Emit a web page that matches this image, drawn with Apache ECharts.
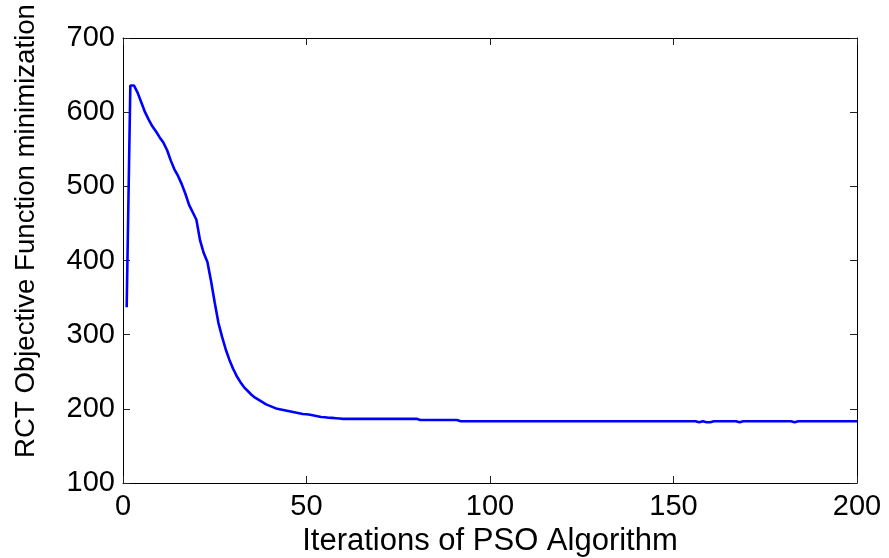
<!DOCTYPE html>
<html>
<head>
<meta charset="utf-8">
<script src="https://cdn.jsdelivr.net/npm/echarts@6/dist/echarts.min.js"></script>
<style>html,body{margin:0;padding:0;background:#fff}#c{width:889px;height:558px}</style>
</head>
<body>
<div id="c"></div>
<script>
var xTicks = [0, 50, 100, 150, 200];
var yTicks = [100, 200, 300, 400, 500, 600, 700];
var xTitle = 'Iterations of PSO Algorithm';
var yTitle = 'RCT Objective Function minimization';

// iteration numbers 1..200
var iterations = [];
for (var i = 1; i <= 200; i++) iterations.push(i);

// objective value per iteration
var earlyValues = [
  337, 636, 636, 626, 613, 600, 590, 581, 574, 566,
  559, 549, 535, 523, 514, 503, 490, 475, 465, 455,
  427, 410, 398, 372, 343, 316, 297, 280, 266, 254,
  244, 236, 229, 224, 219, 215, 212, 209, 206, 204,
  202, 200, 199, 198, 197, 196, 195, 194, 193, 192.7,
  192, 191, 190, 189, 188.6, 188, 187.8, 187.4, 187, 186.5
];
var midValues = [ // iterations 61..91
  186.5, 186.5, 186.5, 186.5, 186.5, 186.5, 186.5, 186.5, 186.5, 186.5,
  186.5, 186.5, 186.5, 186.5, 186.5, 186.5, 186.5, 186.5, 186.5, 186.5,
  185, 185, 185, 185, 185, 185, 185, 185, 185, 185, 185
];
var lateValues = [ // iterations 92..200
  183.2, 183.2, 183.2, 183.2, 183.2, 183.2, 183.2, 183.2, 183.2, 183.2,
  183.2, 183.2, 183.2, 183.2, 183.2, 183.2, 183.2, 183.2, 183.2, 183.2,
  183.2, 183.2, 183.2, 183.2, 183.2, 183.2, 183.2, 183.2, 183.2, 183.2,
  183.2, 183.2, 183.2, 183.2, 183.2, 183.2, 183.2, 183.2, 183.2, 183.2,
  183.2, 183.2, 183.2, 183.2, 183.2, 183.2, 183.2, 183.2, 183.2, 183.2,
  183.2, 183.2, 183.2, 183.2, 183.2, 183.2, 183.2, 183.2, 183.2, 183.2,
  183.2, 183.2, 183.2, 183.2, 183.2, 182.0, 183.2, 182.0, 182.0, 183.2,
  183.2, 183.2, 183.2, 183.2, 183.2, 183.2, 182.0, 183.2, 183.2, 183.2,
  183.2, 183.2, 183.2, 183.2, 183.2, 183.2, 183.2, 183.2, 183.2, 183.2,
  183.2, 182.0, 183.2, 183.2, 183.2, 183.2, 183.2, 183.2, 183.2, 183.2,
  183.2, 183.2, 183.2, 183.2, 183.2, 183.2, 183.2, 183.2, 183.2
];
var values = earlyValues.concat(midValues, lateValues);

var seriesData = iterations.map(function (x, k) { return [x, values[k]]; });

var FONT = '"Liberation Sans", Arial, sans-serif';
var chart = echarts.init(document.getElementById('c'), null, {renderer: 'canvas'});

function axisCommon(showLabel) {
  return {
    axisLine: {show: true, onZero: false, lineStyle: {color: '#000', width: 1}},
    axisTick: {show: true, inside: true, length: 7, lineStyle: {color: '#222', width: 1}},
    splitLine: {show: false},
    axisLabel: {show: showLabel, color: '#000', fontSize: 29, fontFamily: FONT}
  };
}

var xb = axisCommon(true); xb.type = 'value'; xb.min = xTicks[0]; xb.max = xTicks[xTicks.length-1]; xb.interval = 50; xb.position = 'bottom'; xb.axisLabel.margin = 9;
var xt = axisCommon(false); xt.type = 'value'; xt.min = xTicks[0]; xt.max = xTicks[xTicks.length-1]; xt.interval = 50; xt.position = 'top';
var yl = axisCommon(true); yl.type = 'value'; yl.min = yTicks[0]; yl.max = yTicks[yTicks.length-1]; yl.interval = 100; yl.position = 'left'; yl.axisLabel.margin = 8;
var yr = axisCommon(false); yr.type = 'value'; yr.min = yTicks[0]; yr.max = yTicks[yTicks.length-1]; yr.interval = 100; yr.position = 'right';

xb.name = xTitle; xb.nameLocation = 'middle'; xb.nameGap = 43;
xb.nameTextStyle = {color: '#000', fontSize: 31, fontFamily: FONT};

chart.setOption({
  animation: false,
  backgroundColor: '#fff',
  grid: {left: 123, right: 32, top: 38, bottom: 75, containLabel: false, outerBoundsMode: 'none'},
  xAxis: [xb, xt],
  yAxis: [yl, yr],
  graphic: [{
    type: 'text',
    x: 26, y: 231,
    rotation: Math.PI / 2,
    style: {text: yTitle, fill: '#000', fontSize: 27.6, fontFamily: FONT, align: 'center', verticalAlign: 'middle'}
  }],
  series: [{
    type: 'line',
    xAxisIndex: 0, yAxisIndex: 0,
    data: seriesData,
    showSymbol: false,
    symbol: 'none',
    lineStyle: {color: '#0000ff', width: 2.6},
    clip: true
  }]
});
</script>
</body>
</html>
